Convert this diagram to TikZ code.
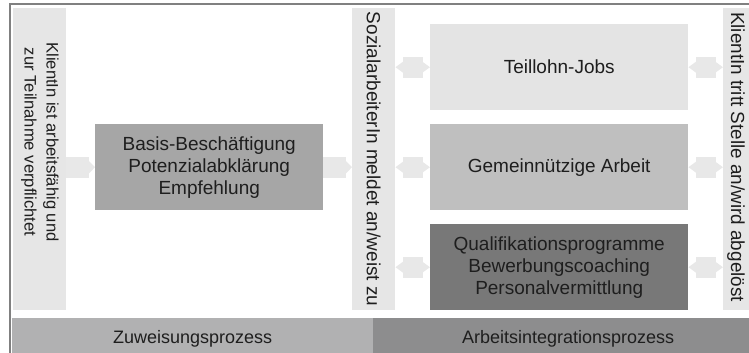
\documentclass[tikz,border=0pt]{standalone}
\usepackage{fontspec}
\setmainfont{Liberation Sans}
\usepackage{tikz}
\usetikzlibrary{arrows.meta,positioning}

\definecolor{framegray}{HTML}{808080}
\definecolor{paleblock}{HTML}{E6E6E6}
\definecolor{arrowgray}{HTML}{E8E8E8}
\definecolor{basisgray}{HTML}{A6A6A6}
\definecolor{jobsgray}{HTML}{E4E4E4}
\definecolor{workgray}{HTML}{BFBFBF}
\definecolor{qualigray}{HTML}{787878}
\definecolor{leftbar}{HTML}{B1B1B2}
\definecolor{rightbar}{HTML}{8D8D8E}
\definecolor{inkgray}{HTML}{1E1E1E}

\tikzset{
  box/.style={rectangle, inner sep=0pt, anchor=north west, text=inkgray,
    align=center, font=\fontsize{19}{22}\selectfont},
  column/.style={box, fill=paleblock},
  coltext/.style={rotate=-90, inner sep=0pt, text=inkgray, align=center},
  onearrow/.style={draw=arrowgray, line width=21pt,
    -{Triangle[width=12pt,length=6pt]}},
  twoarrow/.style={draw=arrowgray, line width=21pt,
    {Triangle[width=11pt,length=8pt]}-{Triangle[width=11pt,length=8pt]}},
}

\begin{document}
\begin{tikzpicture}[x=1pt,y=-1pt]
    \useasboundingbox (0,0) rectangle (749,353);
    \clip (0,0) rectangle (749,353);

    % Draw the outer frame
    \draw[framegray, line width=2pt] (10,4) rectangle (800,400);

    % Columns with the steps
    \node[column, minimum width=53pt, minimum height=302pt] (client) at (13,8) {};
    \node[coltext, font=\fontsize{16.6}{22}\selectfont] (clienttext) at (40,142)
        {KlientIn ist arbeitsfähig und\\zur Teilnahme verpflichtet};
    \node[column, minimum width=43pt, minimum height=302pt] (social) at (352,8) {};
    \node[coltext, font=\fontsize{19}{22}\selectfont] (socialtext) at (social.center)
        {SozialarbeiterIn meldet an/weist zu};
    \node[column, minimum width=60pt, minimum height=302pt] (leave) at (723,8) {};
    \node[coltext, font=\fontsize{18.9}{22}\selectfont] (leavetext) at (736,157)
        {KlientIn tritt Stelle an/wird abgelöst};

    % Programme boxes
    \node[box, fill=basisgray, minimum width=228pt, minimum height=86pt] (basis) at (95,124)
        {Basis-Beschäftigung\\Potenzialabklärung\\Empfehlung};
    \node[box, fill=jobsgray, minimum width=258pt, minimum height=86pt] (jobs) at (430,24)
        {Teillohn-Jobs};
    \node[box, fill=workgray, minimum width=258pt, minimum height=86pt] (work) at (430,124)
        {Gemeinnützige Arbeit};
    \node[box, fill=qualigray, minimum width=258pt, minimum height=86pt] (quali) at (430,224)
        {Qualifikationsprogramme\\Bewerbungscoaching\\Personalvermittlung};

    % Arrows between the steps
    \draw[onearrow] (client.east |- basis.west) -- (basis.west);
    \draw[onearrow] (basis.east) -- (social.west |- basis.east);
    \foreach \prog in {jobs,work,quali} {
        \draw[twoarrow] (social.east |- \prog.west) -- (\prog.west);
        \draw[twoarrow] (\prog.east) -- (leave.west |- \prog.east);
    }

    % Process bars at the bottom
    \node[box, fill=leftbar, minimum width=361pt, minimum height=42pt,
        font=\fontsize{18}{22}\selectfont] (assign) at (12,318) {Zuweisungsprozess};
    \node[box, fill=rightbar, minimum width=390pt, minimum height=42pt,
        font=\fontsize{18}{22}\selectfont] (integrate) at (373,318) {Arbeitsintegrationsprozess};
\end{tikzpicture}
\end{document}
